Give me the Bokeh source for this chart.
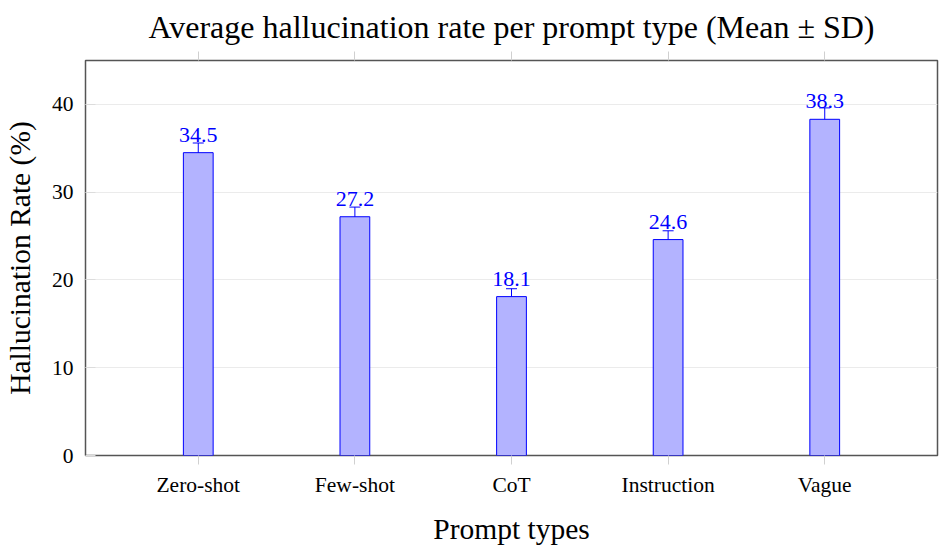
from bokeh.plotting import figure
from bokeh.models import (ColumnDataSource, FactorRange, Range1d, Whisker, LabelSet,
                          CategoricalAxis, FixedTicker)
from bokeh.embed import file_html
from bokeh.resources import INLINE

title_text = "Average hallucination rate per prompt type (Mean \u00b1 SD)"
categories = ["Zero-shot", "Few-shot", "CoT", "Instruction", "Vague"]
means = [34.5, 27.2, 18.1, 24.6, 38.3]
sds = [1.1, 1.1, 0.9, 1.0, 1.3]
y_ticks = [0, 10, 20, 30, 40]
y_max = 45

FONT = "Liberation Serif"
BLUE = "#0000ff"
FILL = "#b3b3ff"

src = ColumnDataSource(dict(
    cat=categories,
    mean=means,
    lower=[m - s for m, s in zip(means, sds)],
    upper=[m + s for m, s in zip(means, sds)],
    lab=[f"{m:.1f}" for m in means],
))

p = figure(x_range=FactorRange(factors=categories, range_padding=0.088, range_padding_units="percent"),
           y_range=Range1d(0, y_max),
           width=942, height=547, output_backend="svg", toolbar_location=None,
           min_border_left=85, min_border_right=5, min_border_top=60, min_border_bottom=91,
           title=title_text)

p.title.text_font = FONT
p.title.text_font_size = "32px"
p.title.text_font_style = "normal"
p.title.align = "center"
p.title.text_color = "#000000"
p.title.standoff = 13

p.vbar(x="cat", top="mean", width=0.19, source=src, fill_color=FILL, line_color=BLUE, line_width=1)

w = Whisker(base="cat", lower="lower", upper="upper", source=src, line_color=BLUE, line_width=1)
w.upper_head.line_color = BLUE
w.lower_head.line_color = BLUE
w.upper_head.size = 11
w.lower_head.size = 11
p.add_layout(w)

labels = LabelSet(x="cat", y="mean", text="lab", source=src, y_offset=11,
                  text_align="center", text_baseline="alphabetic",
                  text_font=FONT, text_font_size="22px", text_color=BLUE)
p.add_layout(labels)

p.outline_line_color = "#555555"
p.outline_line_width = 1.5
p.background_fill_color = "white"
p.border_fill_color = "white"

p.xgrid.grid_line_color = None
p.ygrid.grid_line_color = "#ebebeb"
p.ygrid.grid_line_width = 1
p.yaxis.ticker = FixedTicker(ticks=y_ticks)

for ax in (p.xaxis[0], p.yaxis[0]):
    ax.axis_line_color = None
    ax.major_label_text_font = FONT
    ax.major_label_text_font_size = "21.5px"
    ax.major_label_text_color = "#000000"
    ax.axis_label_text_font = FONT
    ax.axis_label_text_font_size = "29.5px"
    ax.axis_label_text_font_style = "normal"
    ax.axis_label_text_color = "#000000"
    ax.minor_tick_line_color = None

p.xaxis.axis_label = "Prompt types"
p.xaxis.major_tick_in = 0
p.xaxis.major_tick_out = 9
p.xaxis.major_tick_line_color = "#d0d0d0"
p.xaxis.major_label_standoff = 8
p.xaxis.axis_label_standoff = 13

p.yaxis.axis_label = "Hallucination Rate (%)"
p.yaxis.major_tick_in = 10
p.yaxis.major_tick_out = 0
p.yaxis.major_tick_line_color = "#dcdcdc"
p.yaxis.major_label_standoff = 12
p.yaxis.axis_label_standoff = 13

top_ax = CategoricalAxis(axis_line_color=None, major_tick_in=0, major_tick_out=9,
                         major_tick_line_color="#d0d0d0", major_label_text_font_size="0px",
                         major_label_standoff=0)
p.add_layout(top_ax, "above")

open("out.html", "w").write(file_html(p, INLINE))
